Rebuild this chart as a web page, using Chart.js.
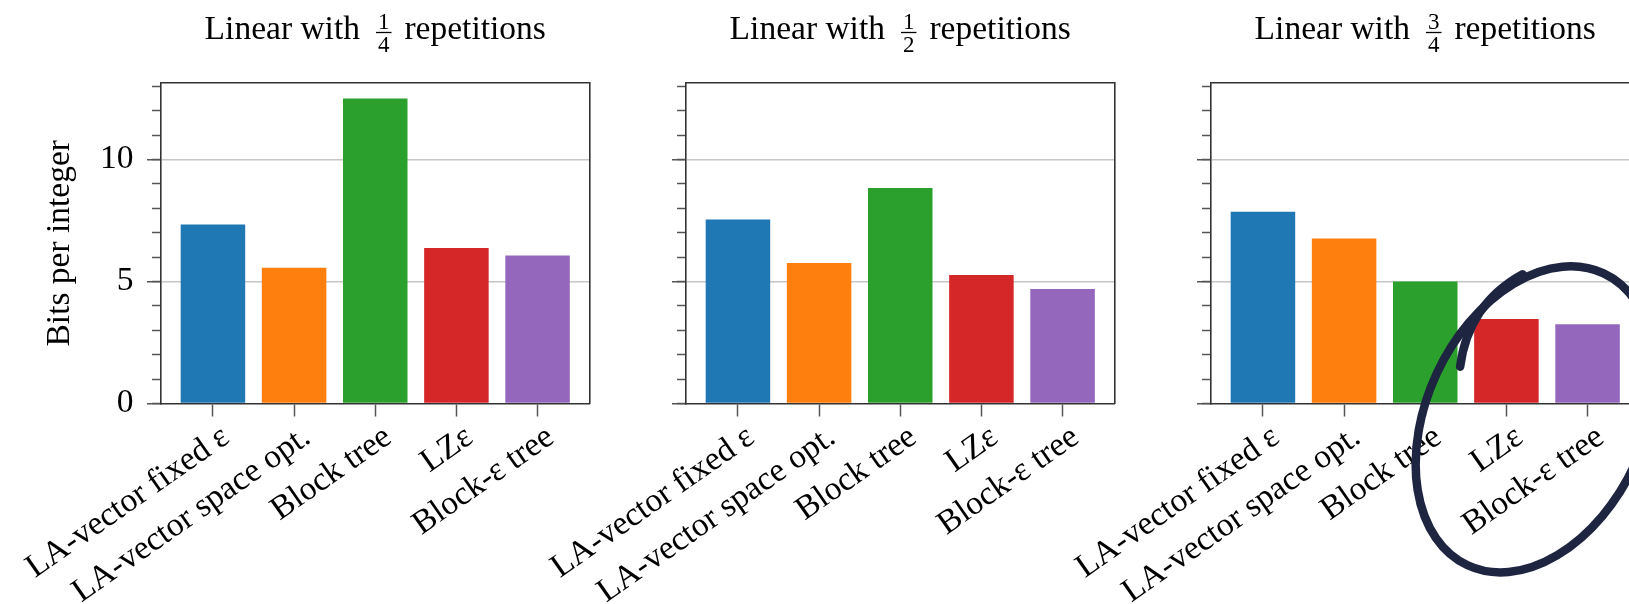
<!DOCTYPE html>
<html>
<head>
<meta charset="utf-8">
<script src="https://cdn.jsdelivr.net/npm/chart.js@4.4.1/dist/chart.umd.min.js"></script>
<style>
  html, body { margin: 0; padding: 0; background: #ffffff; overflow: hidden; }
  #wrap { position: relative; width: 1629px; height: 604px; overflow: hidden; background: #ffffff; }
  #wrap canvas { position: absolute; top: 0; }
</style>
</head>
<body>
<div id="wrap">
  <canvas id="c0" width="600" height="604" style="left:0px"></canvas>
  <canvas id="c1" width="600" height="604" style="left:525px"></canvas>
  <canvas id="c2" width="600" height="604" style="left:1050px"></canvas>
</div>
<script>
// ---------------- data ----------------
const CATEGORIES = ['LA-vector fixed ε', 'LA-vector space opt.', 'Block tree', 'LZε', 'Block-ε tree'];
const BAR_COLORS = ['#1f77b4', '#ff7f0e', '#2ca02c', '#d62728', '#9467bd'];

const VALUES_QUARTER = [7.34, 5.57, 12.50, 6.38, 6.07];
const VALUES_HALF = [7.54, 5.76, 8.84, 5.27, 4.69];
const VALUES_THREE_QUARTERS = [7.86, 6.76, 5.00, 3.46, 3.25];

const TITLE_PREFIX = 'Linear with';
const TITLE_SUFFIX = 'repetitions';
const FRACTION_NUMERATORS = ['1', '1', '3'];
const FRACTION_DENOMINATORS = ['4', '2', '4'];

const Y_TITLE = 'Bits per integer';
const Y_MIN = 0;
const Y_MAX = 13.14;
const Y_MAJOR_STEP = 5;
const Y_MINOR_STEP = 1;

// ---------------- styling ----------------
const FONT_FAMILY = '"Liberation Serif", "Times New Roman", serif';
const FONT_SIZE = 33.5;
const FRAC_SIZE = 23;
const FRAME_COLOR = '#333333';
const TICK_COLOR = '#555555';
const GRID_COLOR = '#c6c6c6';

// Title with a stacked fraction, drawn above the plot area
const fracTitlePlugin = {
  id: 'fracTitle',
  afterDraw(chart, args, opts) {
    const ctx = chart.ctx;
    const area = chart.chartArea;
    const cx = (area.left + area.right) / 2;
    const baseY = 38.7;
    ctx.save();
    ctx.fillStyle = '#000';
    ctx.textBaseline = 'alphabetic';
    ctx.font = FONT_SIZE + 'px ' + FONT_FAMILY;
    const w1 = ctx.measureText(opts.prefix).width;
    const w2 = ctx.measureText(opts.suffix).width;
    ctx.font = FRAC_SIZE + 'px ' + FONT_FAMILY;
    const fw = Math.max(ctx.measureText(opts.num).width, ctx.measureText(opts.den).width) + 4;
    const gap1 = 16, gap2 = 13;
    const total = w1 + gap1 + fw + gap2 + w2;
    let x = cx - total / 2;
    ctx.font = FONT_SIZE + 'px ' + FONT_FAMILY;
    ctx.textAlign = 'left';
    ctx.fillText(opts.prefix, x, baseY);
    x += w1 + gap1;
    ctx.font = FRAC_SIZE + 'px ' + FONT_FAMILY;
    ctx.textAlign = 'center';
    ctx.fillText(opts.num, x + fw / 2, 28.7);
    ctx.fillText(opts.den, x + fw / 2, 52);
    ctx.strokeStyle = '#000';
    ctx.lineWidth = 1.3;
    ctx.beginPath();
    ctx.moveTo(x, 32.5);
    ctx.lineTo(x + fw, 32.5);
    ctx.stroke();
    x += fw + gap2;
    ctx.font = FONT_SIZE + 'px ' + FONT_FAMILY;
    ctx.textAlign = 'left';
    ctx.fillText(opts.suffix, x, baseY);
    ctx.restore();
  }
};

// Hand-drawn circle annotation, anchored to the scales of the third panel
const penCirclePlugin = {
  id: 'penCircle',
  afterDraw(chart, args, opts) {
    if (!opts || !opts.enabled) return;
    const xs = chart.scales.x, ys = chart.scales.y;
    const ctx = chart.ctx;
    const cx = xs.getPixelForValue(3.36), cy = ys.getPixelForValue(-0.65);
    ctx.save();
    ctx.strokeStyle = '#1e2540';
    ctx.lineWidth = 8.5;
    ctx.lineCap = 'round';
    ctx.lineJoin = 'round';
    // hook stroke
    const hx0 = xs.getPixelForValue(2.43), hy0 = ys.getPixelForValue(1.51);
    const hx1 = xs.getPixelForValue(3.2), hy1 = ys.getPixelForValue(5.3);
    ctx.beginPath();
    ctx.moveTo(hx0, hy0);
    ctx.quadraticCurveTo(hx0 + 8, hy1 + 30, hx1, hy1);
    ctx.stroke();
    // loop
    ctx.beginPath();
    ctx.ellipse(cx, cy, 161, 109, -65 * Math.PI / 180, 0, 2 * Math.PI);
    ctx.stroke();
    ctx.restore();
  }
};

function makePanel(canvasId, values, num, den, withYLabels, withCircle) {
  const font = { family: FONT_FAMILY, size: FONT_SIZE };
  return new Chart(document.getElementById(canvasId), {
    type: 'bar',
    data: {
      datasets: [{
        data: values.map((v, i) => ({ x: i, y: v })),
        backgroundColor: BAR_COLORS,
        borderWidth: 0,
        barPercentage: 0.795,
        categoryPercentage: 1.0,
        xAxisID: 'x',
        yAxisID: 'y'
      }]
    },
    options: {
      responsive: false,
      devicePixelRatio: 1,
      animation: false,
      events: [],
      layout: { padding: { top: 83, left: 0, right: 10.5, bottom: 0 } },
      plugins: {
        legend: { display: false },
        title: { display: false },
        tooltip: { enabled: false },
        fracTitle: { prefix: TITLE_PREFIX, suffix: TITLE_SUFFIX, num: num, den: den },
        penCircle: { enabled: withCircle }
      },
      scales: {
        x: {
          type: 'linear',
          position: 'bottom',
          min: -0.64,
          max: 4.64,
          offset: false,
          ticks: {
            stepSize: 1,
            includeBounds: false,
            autoSkip: false,
            minRotation: 35,
            maxRotation: 35,
            padding: 1,
            labelOffset: 13,
            color: '#000',
            font: font,
            callback: (v) => (Number.isInteger(v) && v >= 0 && v < CATEGORIES.length) ? CATEGORIES[v] : ''
          },
          grid: { offset: false, drawOnChartArea: false, drawTicks: true, tickLength: 13, tickColor: TICK_COLOR, tickWidth: 1.5 },
          border: { display: true, color: FRAME_COLOR, width: 1.6, z: 1 },
          afterFit: (s) => { s.height = 200.5; s.paddingLeft = 0; s.paddingRight = 0; }
        },
        xTop: {
          type: 'linear',
          position: 'top',
          min: -0.64,
          max: 4.64,
          offset: false,
          ticks: { display: false },
          grid: { offset: false, drawOnChartArea: false, drawTicks: false },
          border: { display: true, color: FRAME_COLOR, width: 1.6, z: 1 },
          afterFit: (s) => { s.height = 0; s.paddingLeft = 0; s.paddingRight = 0; }
        },
        y: {
          type: 'linear',
          position: 'left',
          weight: 10,
          min: Y_MIN,
          max: Y_MAX,
          ticks: {
            stepSize: Y_MAJOR_STEP,
            includeBounds: false,
            display: withYLabels,
            padding: 13.5,
            color: '#000',
            font: font
          },
          grid: {
            drawOnChartArea: true,
            color: (c) => (c.tick && c.tick.value === 0) ? 'rgba(0,0,0,0)' : GRID_COLOR,
            lineWidth: 1.5,
            drawTicks: true,
            tickLength: 14,
            tickColor: TICK_COLOR,
            tickWidth: 1.5
          },
          border: { display: true, color: FRAME_COLOR, width: 1.6, z: 1 },
          title: {
            display: withYLabels,
            text: Y_TITLE,
            color: '#000',
            font: font,
            padding: { top: 40, bottom: 0 }
          },
          afterFit: (s) => { s.width = 161; }
        },
        yMinor: {
          type: 'linear',
          position: 'left',
          weight: 0,
          min: Y_MIN,
          max: Y_MAX,
          ticks: { stepSize: Y_MINOR_STEP, includeBounds: false, display: false },
          grid: { drawOnChartArea: false, drawTicks: true, tickLength: 9, tickColor: TICK_COLOR, tickWidth: 1.5 },
          border: { display: false },
          afterFit: (s) => { s.width = 0; }
        },
        yRight: {
          type: 'linear',
          position: 'right',
          min: Y_MIN,
          max: Y_MAX,
          ticks: { display: false },
          grid: { drawOnChartArea: false, drawTicks: false },
          border: { display: true, color: FRAME_COLOR, width: 1.6, z: 1 },
          afterFit: (s) => { s.width = 0; }
        }
      }
    },
    plugins: [fracTitlePlugin, penCirclePlugin]
  });
}

makePanel('c0', VALUES_QUARTER, FRACTION_NUMERATORS[0], FRACTION_DENOMINATORS[0], true, false);
makePanel('c1', VALUES_HALF, FRACTION_NUMERATORS[1], FRACTION_DENOMINATORS[1], false, false);
makePanel('c2', VALUES_THREE_QUARTERS, FRACTION_NUMERATORS[2], FRACTION_DENOMINATORS[2], false, true);
</script>
</body>
</html>
